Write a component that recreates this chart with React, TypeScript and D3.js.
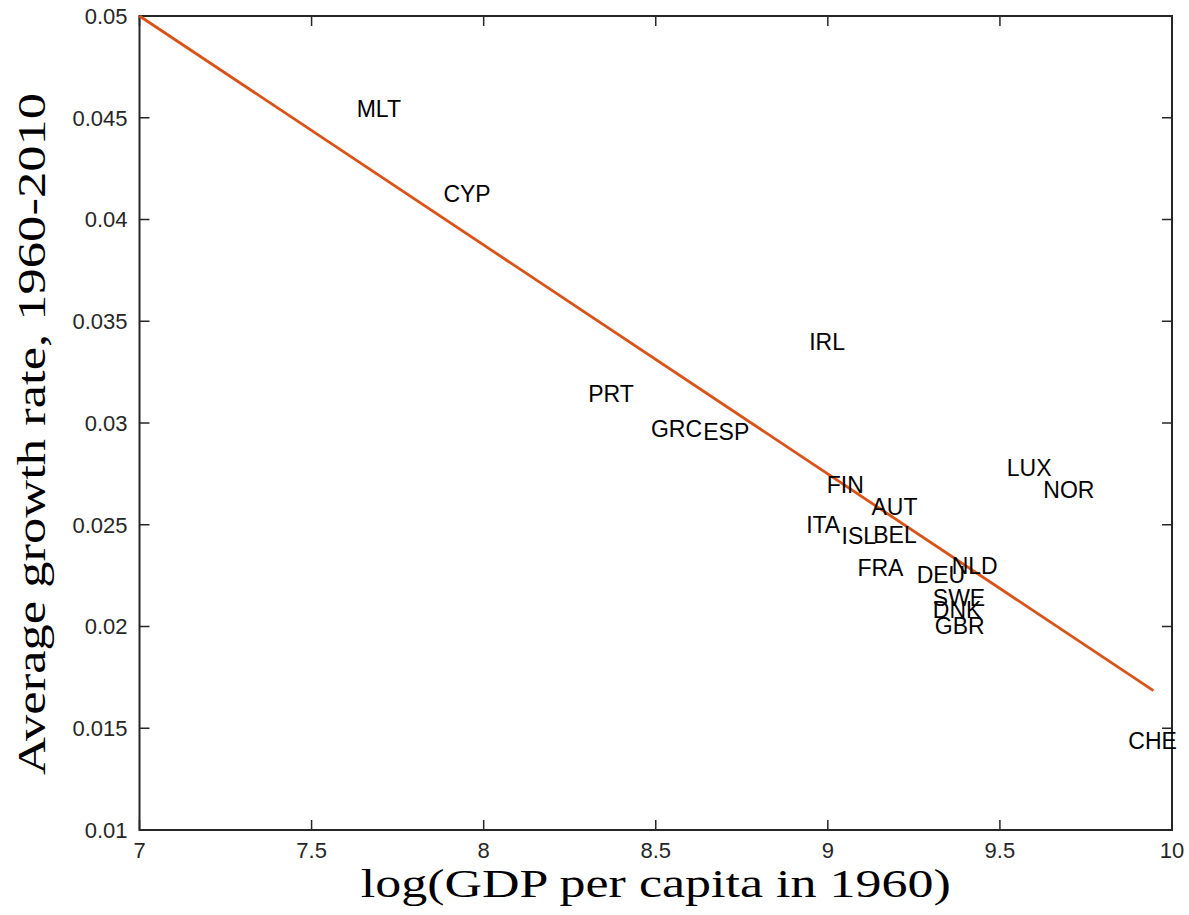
import React from "react";
import * as d3 from "d3";

const countries = ["MLT","CYP","IRL","PRT","GRC","ESP","FIN","AUT","ITA","ISL","BEL","FRA","DEU","NLD","SWE","DNK","GBR","LUX","NOR","CHE"];
const logGdp = [7.631,7.883,8.946,8.304,8.486,8.638,8.997,9.127,8.937,9.040,9.132,9.086,9.258,9.360,9.305,9.305,9.311,9.520,9.626,9.873];
const growth = [0.04544,0.04125,0.0340,0.03146,0.02974,0.02957,0.02695,0.02589,0.02499,0.02445,0.0245,0.02291,0.02253,0.02297,0.02139,0.02081,0.02002,0.02782,0.02674,0.01439];
const fitX = [7, 9.946];
const fitY = [0.05, 0.01685];
const xTicks = [7, 7.5, 8, 8.5, 9, 9.5, 10];
const yTicks = [0.01, 0.015, 0.02, 0.025, 0.03, 0.035, 0.04, 0.045, 0.05];

const W = 1189, H = 915;
const L = 139.5, R = 1172, T = 16, B = 830;
const AX = "#262626";

export default function App() {
  const x = d3.scaleLinear().domain([7, 10]).range([L, R]);
  const y = d3.scaleLinear().domain([0.01, 0.05]).range([B, T]);
  const line = d3.line<number>().x((d) => x(fitX[d])).y((d) => y(fitY[d]));
  const tl = 10;
  return (
    <svg width={W} height={H} style={{ position: "absolute", left: 0, top: 0, background: "#fff" }}>
      <rect x={0} y={0} width={W} height={H} fill="#fff" />
      {xTicks.map((t) => (
        <g key={"x" + t}>
          <line x1={x(t)} x2={x(t)} y1={B} y2={B - tl} stroke={AX} strokeWidth={1.5} />
          <line x1={x(t)} x2={x(t)} y1={T} y2={T + tl} stroke={AX} strokeWidth={1.5} />
          <text x={x(t)} y={858} textAnchor="middle" fontFamily="Liberation Sans, Arial, sans-serif" fontSize={22} fill={AX}>{String(t)}</text>
        </g>
      ))}
      {yTicks.map((t) => (
        <g key={"y" + t}>
          <line x1={L} x2={L + tl} y1={y(t)} y2={y(t)} stroke={AX} strokeWidth={1.5} />
          <line x1={R} x2={R - tl} y1={y(t)} y2={y(t)} stroke={AX} strokeWidth={1.5} />
          <text x={127.5} y={y(t)} dy="0.36em" textAnchor="end" fontFamily="Liberation Sans, Arial, sans-serif" fontSize={22} fill={AX}>{String(t)}</text>
        </g>
      ))}
      <rect x={L} y={T} width={R - L} height={B - T} fill="none" stroke={AX} strokeWidth={2} />
      <path d={line([0, 1]) || ""} fill="none" stroke="#D95319" strokeWidth={2.8} />
      {countries.map((c, i) => (
        <text key={c} x={x(logGdp[i])} y={y(growth[i])} dy="0.36em" fontFamily="Liberation Sans, Arial, sans-serif" fontSize={23} fill="#000">{c}</text>
      ))}
      <text x={(L + R) / 2} y={897} textAnchor="middle" fontFamily="Liberation Serif, Times New Roman, serif" fontSize={41} fill="#000" textLength={590} lengthAdjust="spacingAndGlyphs">log(GDP per capita in 1960)</text>
      <text transform={`translate(45, ${434}) rotate(-90)`} textAnchor="middle" fontFamily="Liberation Serif, Times New Roman, serif" fontSize={41} fill="#000" textLength={682} lengthAdjust="spacingAndGlyphs">Average growth rate, 1960-2010</text>
    </svg>
  );
}
